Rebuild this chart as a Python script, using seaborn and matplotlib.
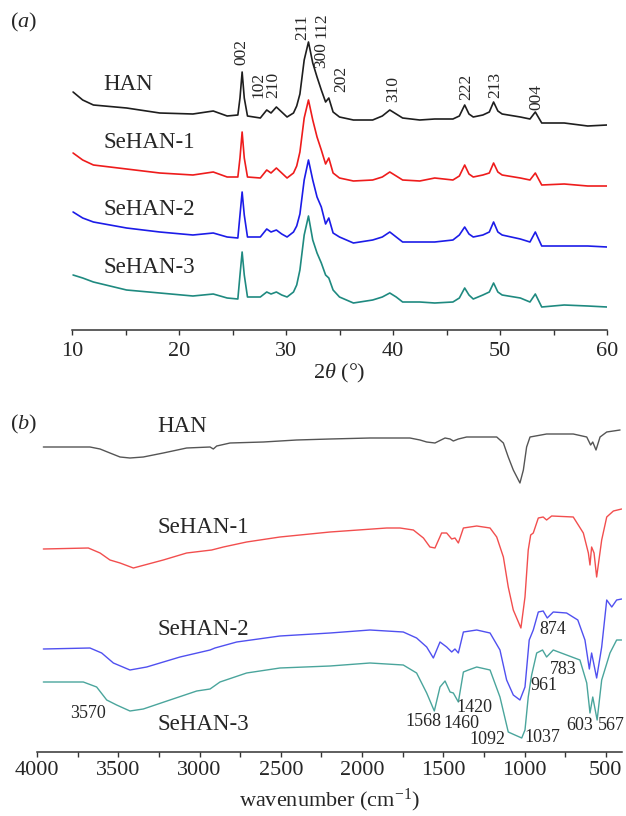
import matplotlib
matplotlib.use("Agg")
import matplotlib.pyplot as plt
import seaborn as sns

# %% XRD data (panel a) -- intensities in a.u., curves already offset
two_theta = [10.1, 11.0, 12.0, 15.1, 18.2, 21.3, 23.2, 24.5, 25.5, 25.7, 25.9, 26.1, 26.4,
             27.6, 28.2, 28.6, 29.1, 29.6, 30.1, 30.7, 31.0, 31.3, 31.7, 32.1, 32.5, 32.9,
             33.3, 33.7, 34.0, 34.4, 35.0, 36.3, 38.1, 39.0, 39.7, 40.3, 40.9, 42.5, 43.9,
             45.6, 46.2, 46.7, 47.1, 47.5, 48.4, 49.0, 49.4, 49.8, 50.2, 51.9, 52.8, 53.3,
             53.9, 56.0, 58.2, 60.0]
xrd_han = [238, 230, 225, 222, 217, 216, 219, 214, 215, 232, 258, 232, 214,
           212, 220, 217, 223, 218, 213, 217, 224, 236, 270, 288, 267, 253,
           240, 228, 232, 218, 213, 210, 210, 214, 220, 216, 212, 210, 211,
           211, 214, 225, 216, 213, 215, 218, 228, 219, 216, 213, 211, 218,
           207, 207, 204, 205]
xrd_sehan1 = [177, 170, 165, 161, 157, 155, 158, 153, 153, 172, 198, 172, 153,
              152, 160, 157, 162, 157, 152, 157, 164, 178, 212, 230, 210, 193,
              180, 166, 172, 157, 152, 149, 150, 153, 158, 154, 150, 149, 152,
              150, 154, 165, 156, 153, 155, 157, 167, 158, 155, 152, 150, 157,
              145, 146, 144, 144]
xrd_sehan2 = [118, 112, 108, 102, 98, 95, 97, 93, 92, 115, 138, 115, 93,
              93, 101, 98, 100, 96, 93, 98, 104, 116, 150, 170, 150, 133,
              123, 106, 112, 97, 93, 87, 90, 93, 98, 93, 88, 88, 88,
              90, 95, 103, 96, 93, 95, 98, 108, 98, 95, 91, 88, 98,
              84, 84, 84, 83]
xrd_sehan3 = [55, 52, 48, 40, 37, 34, 36, 32, 31, 55, 78, 55, 33,
              33, 38, 36, 38, 35, 33, 38, 45, 60, 95, 114, 90, 77,
              67, 55, 52, 40, 33, 27, 30, 33, 37, 33, 28, 28, 27,
              28, 32, 42, 35, 31, 35, 38, 47, 38, 35, 32, 28, 36,
              23, 25, 24, 23]
xrd_names = ["HAN", "SeHAN-1", "SeHAN-2", "SeHAN-3"]
xrd_colors = ["#1e1e1e", "#ee1c1c", "#1c1ce8", "#1f8a80"]
xrd_name_pos = [(12.9, 240), (12.9, 182), (12.9, 115), (12.9, 57)]

hkl = ["002", "102", "210", "211", "112", "300", "202", "310", "222", "213", "004"]
hkl_pos = [(25.86, 265), (27.45, 232), (28.85, 232), (31.55, 290), (33.30, 292),
           (33.30, 262), (35.20, 238), (40.03, 228), (46.80, 230), (49.53, 232), (53.43, 220)]

# %% FTIR data (panel b) -- transmittance in a.u., curves already offset
wn_han = [3961, 3674, 3612, 3551, 3489, 3428, 3346, 3223, 3079, 2935, 2915, 2894, 2812,
          2607, 2402, 2197, 1951, 1705, 1643, 1602, 1551, 1489, 1458, 1438, 1407, 1356,
          1171, 1130, 1100, 1069, 1028, 1007, 987, 966, 864, 700, 617, 593, 580, 560,
          535, 494, 412]
ir_han = [305, 305, 303, 299, 295, 294, 295, 299, 304, 305, 303, 306, 309,
          310, 312, 313, 314, 314, 312, 310, 309, 314, 313, 311, 313, 315,
          315, 309, 295, 282, 269, 282, 305, 315, 318, 318, 315, 307, 310, 302,
          315, 320, 322]
wn_sehan1 = [3961, 3684, 3612, 3551, 3489, 3407, 3223, 3079, 2925, 2853, 2710, 2505, 2197,
             1848, 1766, 1684, 1622, 1582, 1551, 1510, 1479, 1448, 1428, 1407, 1376, 1294,
             1212, 1171, 1130, 1100, 1069, 1022, 997, 977, 962, 946, 915, 885, 864, 833,
             700, 638, 607, 597, 587, 572, 556, 525, 494, 453, 402]
ir_sehan1 = [203, 204, 199, 192, 189, 184, 192, 199, 202, 205, 210, 215, 220,
             224, 224, 222, 214, 205, 204, 219, 219, 213, 214, 209, 224, 226,
             224, 215, 195, 165, 142, 124, 155, 202, 217, 219, 234, 235, 232, 236,
             235, 219, 199, 187, 205, 199, 175, 212, 235, 241, 243]
wn_sehan2 = [3961, 3674, 3602, 3530, 3428, 3325, 3120, 2935, 2905, 2771, 2505, 2197, 1951,
             1746, 1664, 1602, 1561, 1520, 1479, 1448, 1428, 1407, 1376, 1294, 1212, 1151,
             1110, 1069, 1028, 997, 971, 961, 946, 915, 885, 860, 823, 741, 672, 628,
             601, 587, 556, 525, 494, 463, 433, 402]
ir_sehan2 = [103, 104, 99, 89, 82, 85, 95, 102, 104, 110, 116, 119, 122,
             120, 114, 105, 94, 110, 105, 100, 103, 99, 120, 122, 119, 102,
             72, 57, 52, 65, 112, 116, 122, 140, 141, 134, 140, 139, 132, 112,
             83, 99, 74, 105, 152, 145, 152, 153]
wn_sehan3 = [3961, 3715, 3633, 3571, 3510, 3428, 3346, 3182, 3017, 2935, 2874, 2710, 2505,
             2197, 1951, 1746, 1664, 1602, 1555, 1520, 1489, 1458, 1438, 1407, 1376, 1345,
             1294, 1212, 1151, 1100, 1059, 1017, 997, 977, 961, 956, 925, 889, 864, 823,
             741, 659, 617, 597, 580, 553, 525, 474, 433, 402]
ir_sehan3 = [70, 70, 65, 52, 47, 41, 43, 52, 61, 63, 70, 79, 84,
             86, 89, 87, 79, 59, 41, 65, 71, 60, 59, 50, 80, 82,
             85, 82, 55, 20, 17, 14, 22, 55, 72, 77, 99, 102, 95, 102,
             97, 92, 69, 39, 55, 32, 72, 99, 112, 112]
ir_colors = ["#555555", "#f24e4e", "#5050f0", "#4aa59c"]
ir_name_pos = [(3257, 320), (3257, 219), (3257, 117), (3257, 22)]

ir_marks = ["3570", "1568", "1460", "1420", "1092", "1037", "961", "783", "874", "603", "567"]
ir_mark_pos = [(3684, 39), (1625, 30), (1391, 29), (1311, 45), (1228, 12), (892, 14),
               (880, 66), (763, 82), (828, 122), (658, 27), (468, 26)]

# %% style
sns.set_theme(style="white")
plt.rcParams["font.family"] = ["Liberation Serif", "DejaVu Serif"]
plt.rcParams["mathtext.fontset"] = "custom"
plt.rcParams["mathtext.rm"] = "Liberation Serif"
plt.rcParams["mathtext.it"] = "Liberation Serif:italic"

W, H = 626, 816
fig = plt.figure(figsize=(W / 100, H / 100), dpi=100)


def px_axes(left, right, top, bottom):
    return fig.add_axes([left / W, 1 - bottom / H, (right - left) / W, (bottom - top) / H])


def style_axis(ax, pad):
    for side in ["left", "top", "right"]:
        ax.spines[side].set_visible(False)
    ax.spines["bottom"].set_color("#333333")
    ax.spines["bottom"].set_linewidth(1.1)
    ax.set_yticks([])
    ax.set_ylabel("")
    ax.tick_params(axis="x", which="both", direction="out", bottom=True, length=3.5,
                   width=1.0, color="#333333", labelsize=16, pad=pad)
    ax.patch.set_alpha(0)


# %% panel (a)
ax_a = px_axes(72, 607, 10, 330)
for ys, c in zip([xrd_han, xrd_sehan1, xrd_sehan2, xrd_sehan3], xrd_colors):
    sns.lineplot(x=two_theta, y=ys, ax=ax_a, color=c, lw=1.2, estimator=None, sort=False)
ax_a.set_xlim(10, 60)
ax_a.set_ylim(0, 320)
ax_a.set_xticks([10, 20, 30, 40, 50, 60])
ax_a.set_xticks([15, 25, 35, 45, 55], minor=True)
style_axis(ax_a, 5)
ax_a.set_xlabel(r"2$\mathit{\theta}$ (°)", fontsize=16, labelpad=1)
for name, (x, y) in zip(xrd_names, xrd_name_pos):
    ax_a.text(x, y, name, fontsize=16.5, ha="left", va="baseline")
for lab, (x, y) in zip(hkl, hkl_pos):
    ax_a.text(x, y, lab, fontsize=12.5, rotation=90, ha="center", va="bottom")

# %% panel (b)
ax_b = px_axes(37, 622, 412, 752)
for xs, ys, c in zip([wn_han, wn_sehan1, wn_sehan2, wn_sehan3],
                     [ir_han, ir_sehan1, ir_sehan2, ir_sehan3], ir_colors):
    sns.lineplot(x=xs, y=ys, ax=ax_b, color=c, lw=1.0, estimator=None, sort=False)
ax_b.set_xlim(4000, 400)
ax_b.set_ylim(0, 340)
ax_b.set_xticks([4000, 3500, 3000, 2500, 2000, 1500, 1000, 500])
ax_b.set_xticks([3750, 3250, 2750, 2250, 1750, 1250, 750], minor=True)
style_axis(ax_b, 3)
ax_b.set_xlabel(r"wavenumber (cm$^{-1}$)", fontsize=16, labelpad=5)
for name, (x, y) in zip(xrd_names, ir_name_pos):
    ax_b.text(x, y, name, fontsize=16.5, ha="left", va="baseline")
for lab, (x, y) in zip(ir_marks, ir_mark_pos):
    ax_b.text(x, y, lab, fontsize=13, ha="center", va="center")

fig.text(24 / W, 1 - 22 / H, r"($\mathit{a}$)", fontsize=16, ha="center", va="center")
fig.text(24 / W, 1 - 424 / H, r"($\mathit{b}$)", fontsize=16, ha="center", va="center")

fig.savefig("out.png", dpi=100)
